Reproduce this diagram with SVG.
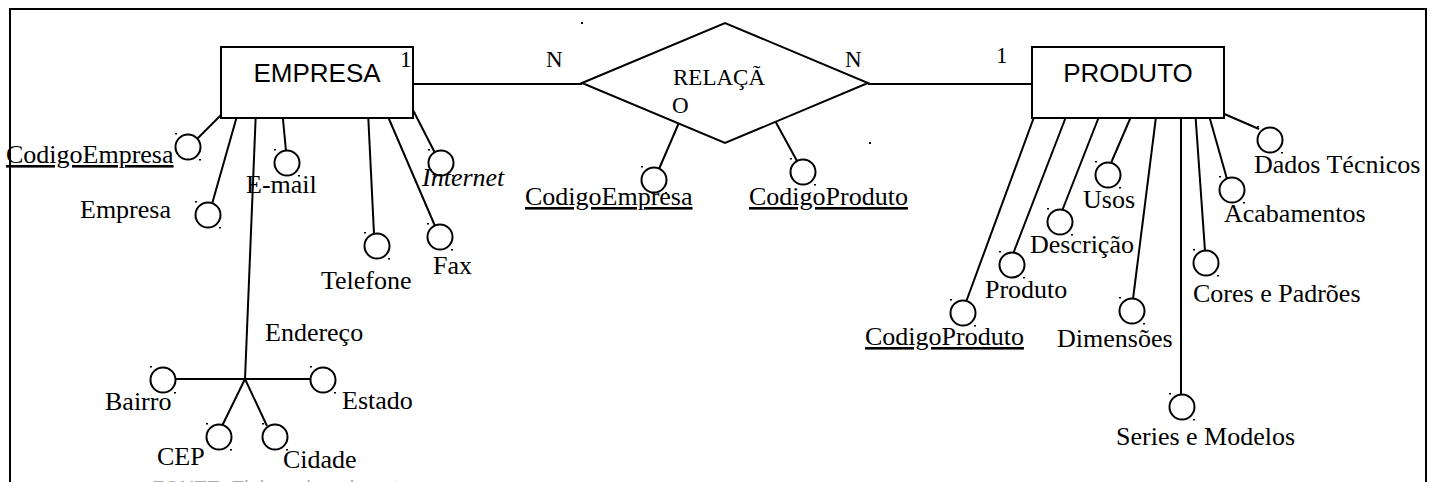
<svg xmlns="http://www.w3.org/2000/svg" xmlns:xlink="http://www.w3.org/1999/xlink" width="1438" height="482" viewBox="0 0 1438 482">
<style>
.ln{stroke:#000;stroke-width:2;fill:none}
.box{fill:#fff;stroke:#000;stroke-width:2}
.ent{font-family:"Liberation Sans",Arial,sans-serif;font-size:26px;fill:#000}
.lbl{font-family:"Liberation Serif","Times New Roman",serif;font-size:26px;fill:#000}
.sm{font-family:"Liberation Serif","Times New Roman",serif;font-size:23px;fill:#000}
.u{text-decoration:underline}
.it{font-style:italic}
.dot{fill:#000}
</style>
<defs>
<g id="att">
<circle r="12.5" cx="0" cy="0" fill="#fff" stroke="#000" stroke-width="2"/>
<rect x="-13" y="-14" width="2" height="1.5" class="dot"/>
<rect x="11" y="12" width="2" height="1.5" class="dot"/>
</g>
</defs>
<rect x="10" y="9" width="1416" height="520" fill="none" stroke="#000" stroke-width="2"/>
<g id="connectors">
<line class="ln" x1="413" y1="84" x2="582" y2="84"/>
<line class="ln" x1="868" y1="84" x2="1032" y2="84"/>
<line class="ln" x1="227" y1="109" x2="197" y2="139"/>
<line class="ln" x1="239" y1="109" x2="212" y2="204"/>
<line class="ln" x1="256" y1="109" x2="245" y2="379"/>
<line class="ln" x1="282" y1="109" x2="286" y2="151"/>
<line class="ln" x1="368" y1="112" x2="374" y2="234"/>
<line class="ln" x1="386" y1="112" x2="435" y2="226"/>
<line class="ln" x1="413" y1="110" x2="435" y2="153"/>
<line class="ln" x1="175" y1="379" x2="311" y2="379"/>
<line class="ln" x1="245" y1="379" x2="222" y2="426"/>
<line class="ln" x1="245" y1="379" x2="267" y2="426"/>
<line class="ln" x1="681" y1="118" x2="659" y2="169"/>
<line class="ln" x1="773" y1="117" x2="797" y2="161"/>
<line class="ln" x1="1037" y1="109" x2="966" y2="302"/>
<line class="ln" x1="1069" y1="109" x2="1013" y2="254"/>
<line class="ln" x1="1102" y1="109" x2="1062" y2="211"/>
<line class="ln" x1="1133" y1="112" x2="1111" y2="163"/>
<line class="ln" x1="1157" y1="109" x2="1133" y2="299"/>
<line class="ln" x1="1181" y1="107" x2="1181" y2="395"/>
<line class="ln" x1="1195" y1="109" x2="1205" y2="251"/>
<line class="ln" x1="1208" y1="112" x2="1227" y2="179"/>
<line class="ln" x1="1222" y1="113" x2="1259" y2="129"/>
</g>
<g id="empresa">
<rect class="box" x="221" y="47" width="192" height="71"/>
<text class="ent" x="317" y="82" text-anchor="middle">EMPRESA</text>
<text class="sm" x="400" y="67">1</text>
</g>
<g id="relacao">
<polygon class="box" points="582,83 725,23 868,83 725,143"/>
<text class="sm" x="673" y="85">RELAÇÃ</text>
<text class="sm" x="672" y="113">O</text>
<text class="sm" x="546" y="67">N</text>
<text class="sm" x="845" y="67">N</text>
<rect x="581" y="22" width="2" height="2" class="dot"/>
<rect x="869" y="142" width="2" height="2" class="dot"/>
</g>
<g id="produto">
<rect class="box" x="1032" y="47" width="192" height="71"/>
<text class="ent" x="1128" y="82" text-anchor="middle">PRODUTO</text>
<text class="sm" x="996" y="63">1</text>
</g>
<g id="attr-codigoempresa"><use xlink:href="#att" x="188" y="147"/><text class="lbl u" x="6" y="163">CodigoEmpresa</text></g>
<g id="attr-empresa"><use xlink:href="#att" x="208" y="215"/><text class="lbl" x="80" y="218">Empresa</text></g>
<g id="attr-email"><use xlink:href="#att" x="287" y="163"/><text class="lbl" x="246" y="193">E-mail</text></g>
<g id="attr-telefone"><use xlink:href="#att" x="377" y="246"/><text class="lbl" x="321" y="289">Telefone</text></g>
<g id="attr-fax"><use xlink:href="#att" x="440" y="237"/><text class="lbl" x="433" y="274">Fax</text></g>
<g id="attr-internet"><use xlink:href="#att" x="441" y="163"/><text class="lbl it" x="422" y="186">Internet</text></g>
<g id="attr-endereco"><text class="lbl" x="265" y="341">Endereço</text></g>
<g id="attr-bairro"><use xlink:href="#att" x="163" y="380"/><text class="lbl" x="105" y="410">Bairro</text></g>
<g id="attr-estado"><use xlink:href="#att" x="323" y="380"/><text class="lbl" x="342" y="409">Estado</text></g>
<g id="attr-cep"><use xlink:href="#att" x="219" y="437"/><text class="lbl" x="157" y="465">CEP</text></g>
<g id="attr-cidade"><use xlink:href="#att" x="275" y="437"/><text class="lbl" x="283" y="468">Cidade</text></g>
<g id="attr-rel-codigoempresa"><use xlink:href="#att" x="654" y="180"/><text class="lbl u" x="525" y="205">CodigoEmpresa</text></g>
<g id="attr-rel-codigoproduto"><use xlink:href="#att" x="803" y="172"/><text class="lbl u" x="749" y="205">CodigoProduto</text></g>
<g id="attr-codigoproduto"><use xlink:href="#att" x="963" y="313"/><text class="lbl u" x="865" y="345">CodigoProduto</text></g>
<g id="attr-produto"><use xlink:href="#att" x="1012" y="265"/><text class="lbl" x="985" y="298">Produto</text></g>
<g id="attr-descricao"><use xlink:href="#att" x="1060" y="222"/><text class="lbl" x="1030" y="253">Descrição</text></g>
<g id="attr-usos"><use xlink:href="#att" x="1108" y="175"/><text class="lbl" x="1083" y="208">Usos</text></g>
<g id="attr-dimensoes"><use xlink:href="#att" x="1132" y="311"/><text class="lbl" x="1057" y="347">Dimensões</text></g>
<g id="attr-series"><use xlink:href="#att" x="1182" y="407"/><text class="lbl" x="1116" y="445">Series e Modelos</text></g>
<g id="attr-cores"><use xlink:href="#att" x="1206" y="263"/><text class="lbl" x="1193" y="302">Cores e Padrões</text></g>
<g id="attr-acabamentos"><use xlink:href="#att" x="1232" y="190"/><text class="lbl" x="1224" y="222">Acabamentos</text></g>
<g id="attr-dados"><use xlink:href="#att" x="1270" y="140"/><text class="lbl" x="1254" y="173">Dados Técnicos</text></g>
<text x="152" y="495" font-family="Liberation Sans, Arial, sans-serif" font-size="20" fill="#aaa">FONTE: Elaborado pela autora</text>
</svg>
